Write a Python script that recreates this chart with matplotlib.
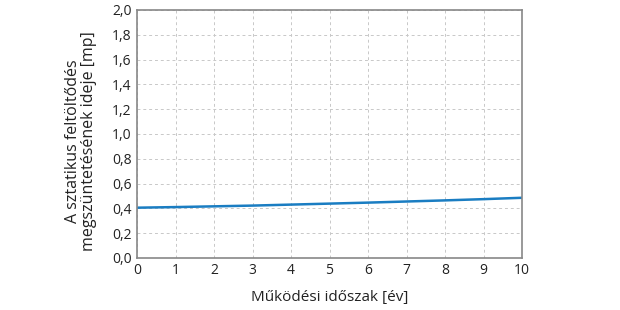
import matplotlib
matplotlib.use("Agg")
import matplotlib.pyplot as plt
from matplotlib.ticker import FuncFormatter

years = [0, 1, 2, 3, 4, 5, 6, 7, 8, 9, 10]
times = [0.405, 0.41, 0.416, 0.422, 0.43, 0.438, 0.446, 0.455, 0.464, 0.474, 0.485]
xticks = list(range(0, 11))
yticks = [0.0, 0.2, 0.4, 0.6, 0.8, 1.0, 1.2, 1.4, 1.6, 1.8, 2.0]

plt.rcParams['font.family'] = ['Open Sans', 'DejaVu Sans']

fig = plt.figure(figsize=(6.2, 3.1), dpi=100)
ax = fig.add_axes([0.221, 0.168, 0.621, 0.8])
ax.plot(years, times, color='#1a7dc2', lw=1.8)
ax.set_xlim(0, 10)
ax.set_ylim(0, 2.0)
ax.set_xticks(xticks)
ax.set_yticks(yticks)
ax.yaxis.set_major_formatter(FuncFormatter(lambda v, p: f"{v:.1f}".replace('.', ',')))
ax.grid(True, color='#c8c8c8', ls=(0, (3, 3)), lw=0.7)
for s in ax.spines.values():
    s.set_color('#888888')
    s.set_linewidth(1.2)
ax.tick_params(length=0, labelsize=10, colors='#222222', pad=4)
ax.set_xlabel('Működési időszak [év]', fontsize=11, color='#222222', labelpad=8)
ax.set_ylabel('A sztatikus feltöltődés\nmegszüntetésének ideje [mp]', fontsize=11.5,
              color='#222222', linespacing=0.95)
ax.yaxis.set_label_coords(-0.105, 0.47)
fig.savefig('out.png', dpi=100)
